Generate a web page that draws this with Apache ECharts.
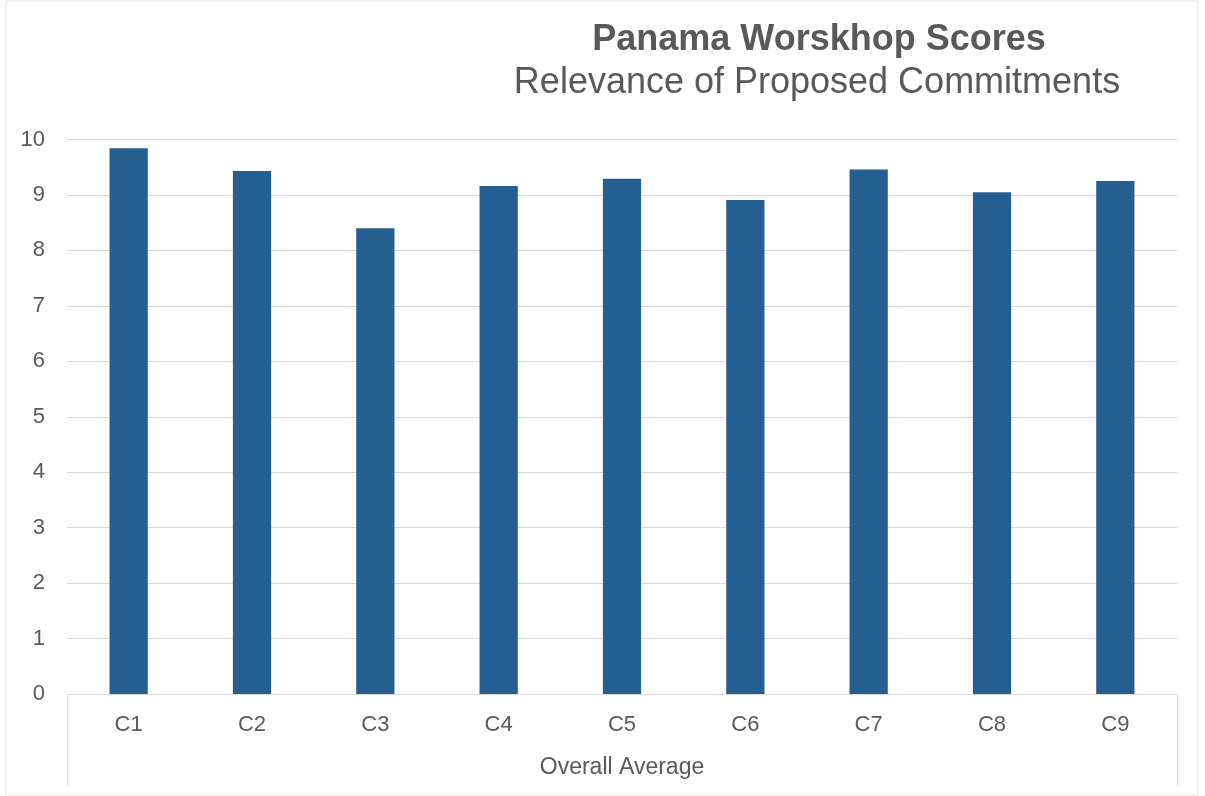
<!DOCTYPE html>
<html>
<head>
<meta charset="utf-8">
<script src="https://cdn.jsdelivr.net/npm/echarts@6/dist/echarts.min.js"></script>
<style>html,body{margin:0;padding:0;background:#fff}#c{width:1205px;height:796px}</style>
</head>
<body>
<div id="c"></div>
<script>
const titleText = 'Panama Worskhop Scores';
const subtitleText = 'Relevance of Proposed Commitments';
const categories = ['C1','C2','C3','C4','C5','C6','C7','C8','C9'];
const groupLabels = ['Overall Average'];
const scores = [9.84, 9.43, 8.40, 9.16, 9.29, 8.91, 9.46, 9.05, 9.25];
const yMin = 0, yMax = 10, yStep = 1;

const chart = echarts.init(document.getElementById('c'), null, {renderer: 'canvas'});
const font = 'Liberation Sans, Arial, Helvetica, sans-serif';
const gray = '#595959';
const grid = '#d9d9d9';
chart.setOption({
  animation: false,
  backgroundColor: '#fff',
  title: [{
    text: titleText,
    left: 814, top: 17, textAlign: 'center',
    textStyle: {fontFamily: font, fontSize: 36, fontWeight: 'bold', color: gray}
  }, {
    text: subtitleText,
    left: 812, top: 60, textAlign: 'center',
    textStyle: {fontFamily: font, fontSize: 36, fontWeight: 'normal', color: gray}
  }],
  graphic: [{
    type: 'rect',
    shape: {x: 6, y: 1, width: 1192, height: 794},
    style: {fill: 'none', stroke: '#e3e3e3', lineWidth: 1},
    silent: true
  }],
  grid: {left: 67, right: 28, top: 139.5, bottom: 102, containLabel: false},
  xAxis: [{
    type: 'category',
    data: categories,
    position: 'bottom',
    axisLine: {show: true, lineStyle: {color: grid, width: 1}},
    axisTick: {show: false},
    axisLabel: {color: gray, fontFamily: font, fontSize: 22, margin: 20}
  }, {
    type: 'category',
    data: groupLabels,
    position: 'bottom',
    axisLine: {show: false},
    axisTick: {show: true, length: 91, lineStyle: {color: grid, width: 1}},
    axisLabel: {color: gray, fontFamily: font, fontSize: 23, margin: 62}
  }],
  yAxis: {
    type: 'value',
    min: yMin, max: yMax, interval: yStep,
    axisLine: {show: false},
    axisTick: {show: false},
    splitLine: {lineStyle: {color: grid, width: 1}},
    axisLabel: {color: gray, fontFamily: font, fontSize: 22, margin: 22}
  },
  series: [{
    type: 'bar',
    xAxisIndex: 0,
    data: scores,
    barWidth: '31%',
    itemStyle: {color: '#255E91'}
  }]
});
</script>
</body>
</html>
